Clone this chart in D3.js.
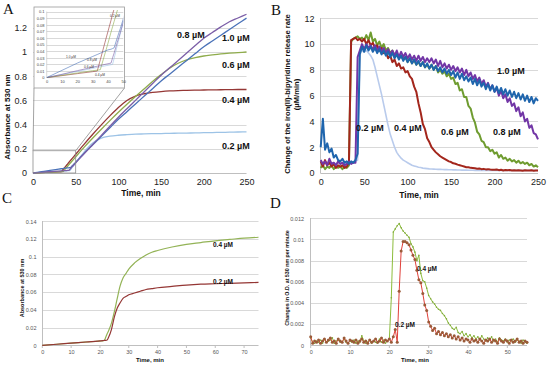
<!DOCTYPE html>
<html><head><meta charset="utf-8">
<script src="https://cdn.jsdelivr.net/npm/d3@7"></script>
<style>body{margin:0;background:#fff}</style>
</head><body><svg id="c" width="550" height="366" font-family="Liberation Sans, Arial, sans-serif"></svg>
<script>
// ---------- Panel A data (absorbance at 530 nm) ----------
const tA = [0,10,20,30,33,35,38,40,42,43,44,46,48,50,55,60,70,80,90,100,110,120,130,140,150,160,170,180,190,200,210,220,230,240,250];
const A_02 = [0,0.0047,0.0093,0.014,0.0155,0.0163,0.0177,0.0186,0.0195,0.02,0.029,0.048,0.066,0.084,0.13,0.175,0.248,0.288,0.304,0.312,0.317,0.321,0.323,0.325,0.326,0.328,0.329,0.33,0.331,0.333,0.334,0.336,0.337,0.339,0.34];
const A_04 = [0,0.003,0.006,0.009,0.010,0.027,0.053,0.070,0.087,0.096,0.104,0.121,0.138,0.155,0.197,0.239,0.32,0.398,0.472,0.541,0.599,0.636,0.655,0.666,0.673,0.678,0.681,0.683,0.685,0.686,0.687,0.688,0.689,0.69,0.69];
const A_06 = [0,0.0035,0.007,0.0105,0.0112,0.012,0.036,0.052,0.069,0.077,0.085,0.101,0.117,0.133,0.174,0.214,0.289,0.362,0.433,0.502,0.568,0.632,0.694,0.756,0.813,0.866,0.907,0.935,0.953,0.967,0.976,0.984,0.99,0.995,1.0];
const A_08 = [0,0.005,0.0105,0.0157,0.0173,0.0183,0.02,0.021,0.022,0.03,0.037,0.053,0.068,0.084,0.123,0.161,0.236,0.311,0.386,0.461,0.531,0.6,0.669,0.739,0.808,0.869,0.93,0.992,1.053,1.114,1.161,1.208,1.25,1.281,1.312];
const A_10 = [0,0.011,0.022,0.032,0.035,0.037,0.04,0.042,0.043,0.044,0.045,0.06,0.074,0.089,0.126,0.163,0.233,0.303,0.374,0.444,0.507,0.571,0.634,0.697,0.761,0.817,0.874,0.93,0.987,1.044,1.091,1.138,1.186,1.233,1.28];
const A_yTicks = [0,0.2,0.4,0.6,0.8,1,1.2];
const A_xTicks = [0,50,100,150,200,250];
const inset_yTicks = [0,0.01,0.02,0.03,0.04,0.05,0.06,0.07,0.08,0.09,0.1];
const inset_xTicks = [0,10,20,30,40,50];

// ---------- Panel B data (release rate, µM/min), sampled every 2.5 min ----------
const tB = d3.range(0, 250.01, 2.5);
const B_02 = [0.8,0.7,0.9,0.7,0.8,0.7,0.8,0.7,0.8,0.7,
 0.8,0.7,0.8,0.7,0.8,0.8,0.9,1.0,9.3,9.5,
 9.4,9.5,9.3,9.1,8.8,8.2,7.5,6.8,6.1,5.3,
 4.5,3.7,3.0,2.5,2.0,1.6,1.35,1.15,1.0,0.9,
 0.8,0.7,0.6,0.55,0.5,0.45,0.42,0.38,0.36,0.34,
 0.32,0.31,0.3,0.29,0.28,0.28,0.27,0.26,0.26,0.25,
 0.25,0.24,0.24,0.23,0.23,0.22,0.22,0.22,0.21,0.21,
 0.21,0.2,0.2,0.2,0.2,0.2,0.2,0.2,0.2,0.2,
 0.2,0.2,0.2,0.2,0.2,0.2,0.2,0.2,0.2,0.2,
 0.2,0.2,0.2,0.2,0.2,0.2,0.2,0.2,0.2,0.2,
 0.2];
const B_04 = [0.9,0.5,1.0,0.6,0.8,0.5,0.7,0.4,0.6,0.5,
 0.6,0.4,0.5,0.8,10.3,10.4,10.5,10.3,10.4,10.2,
 10.4,10.0,10.3,9.9,10.1,9.7,9.9,9.5,9.7,9.3,
 9.4,8.9,9.1,8.6,8.8,8.3,8.5,8.1,8.2,7.8,
 7.9,7.5,7.3,6.7,6.3,5.4,4.7,3.8,3.4,2.7,
 2.4,2.0,1.8,1.6,1.45,1.3,1.2,1.1,1.0,0.9,
 0.85,0.75,0.72,0.65,0.6,0.55,0.5,0.45,0.45,0.4,
 0.38,0.36,0.33,0.35,0.3,0.32,0.28,0.3,0.27,0.25,
 0.25,0.27,0.22,0.25,0.2,0.24,0.21,0.23,0.2,0.22,
 0.19,0.22,0.2,0.18,0.21,0.2,0.19,0.22,0.18,0.2,
 0.2];
const B_06 = [0.4,0.6,0.3,0.5,0.4,0.6,0.3,0.5,0.4,0.5,
 0.3,0.5,0.4,0.6,10.2,10.4,10.5,10.6,10.4,10.5,
 10.3,10.7,10.3,10.9,10.2,10.4,9.9,10.2,9.7,10.0,
 9.5,9.7,9.3,9.5,9.1,9.3,8.9,9.1,8.8,9.0,
 8.6,8.9,8.5,8.8,8.4,8.6,8.3,8.6,8.2,8.4,
 8.1,8.4,8.0,8.3,7.8,8.0,7.7,7.9,7.5,7.7,
 7.3,7.4,6.9,7.0,6.4,6.5,5.9,5.9,5.2,5.0,
 4.3,3.9,3.2,3.0,2.5,2.4,2.0,2.0,1.7,1.8,
 1.5,1.6,1.2,1.4,1.1,1.2,0.95,1.1,0.9,1.0,
 0.8,0.95,0.75,0.85,0.7,0.8,0.6,0.7,0.5,0.6,
 0.45];
const B_08 = [1.0,0.7,0.9,0.6,1.1,0.7,0.8,0.6,0.9,0.7,
 0.8,0.6,0.7,0.9,0.7,0.8,0.8,9.0,9.5,10.0,
 9.6,10.0,9.7,9.9,9.6,9.9,9.5,9.8,9.4,9.7,
 9.3,9.6,9.2,9.5,9.1,9.5,9.0,9.4,9.0,9.3,
 8.9,9.2,8.8,9.1,8.7,9.1,8.7,9.0,8.6,8.9,
 8.6,8.9,8.5,8.8,8.3,8.7,8.2,8.5,8.1,8.4,
 8.0,8.3,7.9,8.2,7.8,8.1,7.6,8.0,7.5,7.8,
 7.3,7.6,7.1,7.4,6.9,7.2,6.7,7.0,6.5,6.8,
 6.3,6.6,6.0,6.4,5.8,6.1,5.5,5.8,5.2,5.4,
 4.8,5.1,4.4,4.7,4.0,4.2,3.5,3.7,3.1,3.0,
 2.6];
const B_10 = [2.0,4.2,1.8,2.3,1.6,1.9,1.2,1.4,1.0,0.9,
 1.1,0.8,0.9,0.7,0.9,0.8,1.0,1.5,9.2,9.8,
 9.4,9.9,9.5,9.8,9.4,9.7,9.3,9.6,9.2,9.5,
 9.1,9.4,9.0,9.3,8.9,9.2,8.8,9.1,8.7,9.0,
 8.6,8.9,8.5,8.8,8.4,8.7,8.3,8.6,8.2,8.5,
 8.1,8.4,8.0,8.3,7.9,8.2,7.8,8.1,7.7,8.0,
 7.6,7.9,7.4,7.8,7.3,7.7,7.2,7.5,7.1,7.4,
 6.9,7.3,6.8,7.2,6.7,7.0,6.5,6.9,6.4,6.8,
 6.3,6.7,6.2,6.6,6.1,6.5,6.0,6.4,5.9,6.3,
 5.8,6.2,5.7,6.1,5.6,6.0,5.5,5.9,5.4,5.8,
 5.6];
const B_yTicks = [0,2,4,6,8,10,12];
const B_xTicks = [0,50,100,150,200,250];

// ---------- Panel C data (absorbance at 530 nm) ----------
const tC = [0,5,10,15,20,21,21.5,22,22.5,23,24,25,26,27,28,29,30,32,34,36,38,40,45,50,55,60,65,70,75];
const C_04 = [0,0.0012,0.0024,0.0036,0.0048,0.005,0.0055,0.009,0.013,0.0165,0.025,0.038,0.053,0.067,0.076,0.081,0.086,0.093,0.098,0.102,0.105,0.107,0.111,0.114,0.116,0.118,0.1195,0.121,0.122];
const C_02 = [0,0.0012,0.0025,0.0037,0.005,0.0053,0.0055,0.0056,0.006,0.009,0.018,0.032,0.042,0.048,0.053,0.055,0.057,0.059,0.061,0.063,0.064,0.065,0.0665,0.068,0.069,0.0695,0.07,0.0705,0.071];
const C_yTicks = [0,0.02,0.04,0.06,0.08,0.1,0.12,0.14];
const C_xTicks = [0,10,20,30,40,50,60,70];

// ---------- Panel D data (change in O.D. per minute), every 0.5 min ----------
const tD = d3.range(0, 55.01, 0.5);
const D_04 = [.0007,.0003,.0002,.0004,.0003,.0005,.0002,.0006,.0003,.0004,
 .0005,.0007,.0002,.0004,.0005,.0003,.0003,.0006,.0003,.0002,
 .0004,.0003,.0005,.0002,.0004,.0003,.0009,.0004,.0002,.0003,
 .0005,.0002,.0004,.0003,.0002,.0006,.0003,.0005,.0002,.0004,
 .0006,.0045,.0107,.0110,.0113,.0115,.0111,.0108,.0106,.0104,
 .0102,.0096,.0093,.0088,.0080,.0085,.0068,.0061,.0060,.0054,
 .0047,.0044,.0041,.0039,.0036,.0034,.0033,.0030,.0028,.0025,
 .0021,.0019,.0016,.0015,.0017,.0012,.0011,.0013,.0009,.0011,
 .0008,.0010,.0007,.0009,.0006,.0008,.0005,.0009,.0006,.0004,
 .0007,.0005,.0008,.0004,.0006,.0003,.0007,.0005,.0004,.0006,
 .0003,.0005,.0004,.0006,.0003,.0005,.0004,.0002,.0005,.0003,
 .0002];
const D_02 = [.0008,.0002,.0004,.0003,.0005,.0002,.0004,.0006,.0003,.0005,
 .0007,.0003,.0004,.0002,.0006,.0004,.0003,.0007,.0004,.0002,
 .0005,.0004,.0003,.0005,.0002,.0004,.0006,.0003,.0004,.0002,
 .0005,.0003,.0004,.0006,.0003,.0004,.0007,.0003,.0005,.0004,
 .0006,.0003,.0008,.0015,.0003,.0051,.0089,.0098,.0098,.0097,
 .0095,.0090,.0085,.0081,.0071,.0062,.0059,.0049,.0038,.0033,
 .0022,.0018,.0014,.0016,.0011,.0013,.0010,.0012,.0009,.0011,
 .0008,.0010,.0007,.0009,.0006,.0008,.0005,.0007,.0004,.0006,
 .0005,.0003,.0006,.0004,.0005,.0003,.0006,.0004,.0002,.0005,
 .0004,.0006,.0003,.0005,.0004,.0002,.0006,.0004,.0003,.0005,
 .0004,.0002,.0005,.0003,.0004,.0006,.0003,.0004,.0002,.0004,
 .0003];
const D_yTicks = [0,0.002,0.004,0.006,0.008,0.01,0.012];
const D_xTicks = [0,10,20,30,40,50];

// ---------- drawing ----------
const svg = d3.select("#c");
svg.append("rect").attr("width",550).attr("height",366).attr("fill","#fff");
const GRID = "#d9d9d9", AXIS = "#bfbfbf", TXT = "#222";
const SERIF = "Liberation Serif, DejaVu Serif, serif";

function grid(g, y, ticks, x0, x1) {
  g.append("g").selectAll("line").data(ticks.filter(d => d !== 0)).join("line")
    .attr("x1", x0).attr("x2", x1).attr("y1", d => Math.round(y(d)) + 0.5).attr("y2", d => Math.round(y(d)) + 0.5)
    .attr("stroke", GRID).attr("stroke-width", 1);
}
function yLabels(g, y, ticks, x, size, color) {
  const ax = g.append("g").attr("transform", `translate(${x},0)`)
    .call(d3.axisLeft(y).tickValues(ticks).tickSize(0).tickPadding(0).tickFormat(d => String(d)));
  ax.select(".domain").remove();
  ax.attr("font-family", null).attr("font-size", null);
  ax.selectAll("text").attr("font-size", size).attr("fill", color);
}
function xLabels(g, x, ticks, y, size, color) {
  const ax = g.append("g").attr("transform", `translate(0,${y})`)
    .call(d3.axisBottom(x).tickValues(ticks).tickSize(0).tickPadding(0).tickFormat(d => String(d)));
  ax.select(".domain").remove();
  ax.attr("font-family", null).attr("font-size", null);
  ax.selectAll("text").attr("font-size", size).attr("fill", color);
}
function series(g, x, y, t, vals, color, w, curve) {
  g.append("path").datum(vals)
    .attr("d", d3.line().x((d, i) => x(t[i])).y(d => y(d)).curve(curve || d3.curveLinear))
    .attr("fill", "none").attr("stroke", color).attr("stroke-width", w).attr("stroke-linejoin", "round");
}
function label(g, txt, x, y, size, opts) {
  opts = opts || {};
  const t = g.append("text").attr("x", x).attr("y", y).attr("font-size", size).attr("fill", opts.fill || "#111")
    .attr("font-weight", opts.weight || "bold").text(txt);
  if (opts.rotate) t.attr("transform", `rotate(-90,${x},${y})`).attr("text-anchor", "middle");
  if (opts.anchor) t.attr("text-anchor", opts.anchor);
  if (opts.family) t.style("font-family", opts.family);
  return t;
}
const colA = {c02: "#9dc3e6", c04: "#953735", c06: "#8fac4c", c08: "#7b5ea7", c10: "#4a72b8"};

// ===== Panel A =====
const gA = svg.append("g");
const xA = d3.scaleLinear([0, 250], [33, 246.5]);
const yA = d3.scaleLinear([0, 1.2], [173, 27.8]);
grid(gA, yA, A_yTicks, 33, 246.5);
gA.append("line").attr("x1", 33).attr("x2", 246.5).attr("y1", 173.5).attr("y2", 173.5).attr("stroke", AXIS);
yLabels(gA, yA, A_yTicks, 27, 9, TXT);
xLabels(gA, xA, A_xTicks, 179, 9, TXT);
const curve = d3.curveMonotoneX;
series(gA, xA, yA, tA, A_02, colA.c02, 1.3, curve);
series(gA, xA, yA, tA, A_04, colA.c04, 1.3, curve);
series(gA, xA, yA, tA, A_06, colA.c06, 1.3, curve);
series(gA, xA, yA, tA, A_10, colA.c10, 1.3, curve);
series(gA, xA, yA, tA, A_08, colA.c08, 1.3, curve);
// zoom box & connectors
const zTop = yA(0.184);
gA.append("rect").attr("x", xA(0)).attr("y", zTop).attr("width", xA(50) - xA(0)).attr("height", yA(0) - zTop)
  .attr("fill", "none").attr("stroke", "#8c8c8c").attr("stroke-width", 0.8);
gA.append("line").attr("x1", xA(0)).attr("y1", zTop).attr("x2", 34).attr("y2", 88).attr("stroke", "#8c8c8c").attr("stroke-width", 0.8);
gA.append("line").attr("x1", xA(50)).attr("y1", zTop).attr("x2", 124.5).attr("y2", 88).attr("stroke", "#8c8c8c").attr("stroke-width", 0.8);
// inset
const gI = gA.append("g");
gI.append("rect").attr("x", 34).attr("y", 7).attr("width", 90.5).attr("height", 81).attr("fill", "#fff").attr("stroke", "#9a9a9a").attr("stroke-width", 0.8);
const xI = d3.scaleLinear([0, 50], [46.7, 123.3]);
const yI = d3.scaleLinear([0, 0.1], [77.6, 11.6]);
grid(gI, yI, inset_yTicks, 46.7, 123.3);
gI.append("line").attr("x1", 46.7).attr("x2", 123.3).attr("y1", 77.6).attr("y2", 77.6).attr("stroke", AXIS).attr("stroke-width", 0.6);
gI.append("line").attr("x1", 46.7).attr("x2", 46.7).attr("y1", 11.6).attr("y2", 77.6).attr("stroke", AXIS).attr("stroke-width", 0.6);
yLabels(gI, yI, inset_yTicks, 44.5, 4, "#444");
xLabels(gI, xI, inset_xTicks, 80.5, 4, "#444");
svg.append("defs").append("clipPath").attr("id", "clipI").append("rect").attr("x", 46.7).attr("y", 10).attr("width", 76.6).attr("height", 68);
const gIc = gI.append("g").attr("clip-path", "url(#clipI)");
[[A_02, colA.c02], [A_04, colA.c04], [A_06, colA.c06], [A_08, colA.c08], [A_10, colA.c10]].forEach(([v, c]) =>
  series(gIc, xI, yI, tA, v, c, 0.6));
label(gI, "1.0 µM", 66, 58, 3.2, {weight: "normal", fill: "#333"});
label(gI, "0.8 µM", 87, 61, 3.2, {weight: "normal", fill: "#333"});
label(gI, "0.6 µM", 84, 68, 3.2, {weight: "normal", fill: "#333"});
label(gI, "0.4 µM", 95, 76, 3.2, {weight: "normal", fill: "#333"});
label(gI, "0.2 µM", 110, 17, 3.2, {weight: "normal", fill: "#333"});
// labels A
label(gA, "0.8 µM", 177, 37.5, 9);
label(gA, "1.0 µM", 222, 40.5, 9);
label(gA, "0.6 µM", 222, 67.5, 9);
label(gA, "0.4 µM", 222, 103, 9);
label(gA, "0.2 µM", 222, 149, 9);
label(gA, "Time, min", 141, 196, 8.5, {anchor: "middle"});
label(gA, "Absorbance at 530 nm", 10, 117, 8, {rotate: true});
label(svg, "A", 3, 13.5, 15, {weight: "normal", family: SERIF});

// ===== Panel B =====
const gB = svg.append("g");
const xB = d3.scaleLinear([0, 250], [320.7, 538]);
const yB = d3.scaleLinear([0, 12], [173, 18.3]);
grid(gB, yB, B_yTicks, 320.7, 538);
gB.append("line").attr("x1", 320.7).attr("x2", 538).attr("y1", 173.5).attr("y2", 173.5).attr("stroke", AXIS);
gB.append("line").attr("x1", 320.5).attr("x2", 320.5).attr("y1", 18).attr("y2", 173.5).attr("stroke", AXIS);
yLabels(gB, yB, B_yTicks, 314.5, 9, TXT);
xLabels(gB, xB, B_xTicks, 179, 9, TXT);
series(gB, xB, yB, tB, B_02, "#b9cbec", 1.6);
series(gB, xB, yB, tB, B_06, "#6f9c30", 2);
series(gB, xB, yB, tB, B_04, "#a3261c", 2);
series(gB, xB, yB, tB, B_08, "#7236a6", 2);
series(gB, xB, yB, tB, B_10, "#1f65ad", 2);
label(gB, "1.0 µM", 497, 74, 9);
label(gB, "0.2 µM", 356, 131, 9);
label(gB, "0.4 µM", 394, 131, 9);
label(gB, "0.6 µM", 441, 135, 9);
label(gB, "0.8 µM", 493, 135, 9);
label(gB, "Time, min", 419, 198, 8.5, {anchor: "middle"});
label(gB, "Change of the iron(II)-bipyridine release rate", 289.5, 94, 7.6, {rotate: true});
label(gB, "(µM/min)", 298.5, 94.5, 7.6, {rotate: true});
label(svg, "B", 271, 15, 15, {weight: "normal", family: SERIF});

// ===== Panel C =====
const gC = svg.append("g");
const xC = d3.scaleLinear([0, 75], [42.3, 258.5]);
const yC = d3.scaleLinear([0, 0.14], [345.3, 221.3]);
grid(gC, yC, C_yTicks, 42.3, 258.5);
gC.append("line").attr("x1", 42.3).attr("x2", 258.5).attr("y1", 345.5).attr("y2", 345.5).attr("stroke", AXIS);
gC.append("line").attr("x1", 42.5).attr("x2", 42.5).attr("y1", 221).attr("y2", 345.5).attr("stroke", AXIS);
gC.append("g").selectAll("line").data(C_xTicks).join("line")
  .attr("x1", d => xC(d)).attr("x2", d => xC(d)).attr("y1", 345.5).attr("y2", 348).attr("stroke", AXIS);
yLabels(gC, yC, C_yTicks, 36.5, 5.5, "#555");
xLabels(gC, xC, C_xTicks, 350, 5.5, "#555");
series(gC, xC, yC, tC, C_04, "#93b356", 1.2, curve);
series(gC, xC, yC, tC, C_02, "#943634", 1.2, curve);
label(gC, "0.4 µM", 213, 247, 6.5);
label(gC, "0.2 µM", 213, 284, 6.5);
label(gC, "Time, min", 150, 362, 6, {anchor: "middle"});
label(gC, "Absorbance at 530 nm", 23.5, 288, 5.5, {rotate: true});
label(svg, "C", 2, 203, 15, {weight: "normal", family: SERIF});

// ===== Panel D =====
const gD = svg.append("g");
const xD = d3.scaleLinear([0, 55], [310.7, 527]);
const yD = d3.scaleLinear([0, 0.012], [345.3, 218.3]);
grid(gD, yD, D_yTicks, 310.7, 527);
gD.append("line").attr("x1", 310.7).attr("x2", 527).attr("y1", 345.5).attr("y2", 345.5).attr("stroke", AXIS);
gD.append("line").attr("x1", 310.5).attr("x2", 310.5).attr("y1", 218).attr("y2", 345.5).attr("stroke", AXIS);
gD.append("g").selectAll("line").data(D_xTicks).join("line")
  .attr("x1", d => xD(d)).attr("x2", d => xD(d)).attr("y1", 345.5).attr("y2", 348).attr("stroke", AXIS);
yLabels(gD, yD, D_yTicks, 304, 5.5, "#555");
xLabels(gD, xD, D_xTicks, 350, 5.5, "#555");
series(gD, xD, yD, tD, D_04, "#8dbd3c", 1);
gD.append("g").selectAll("circle").data(D_04).join("circle")
  .attr("cx", (d, i) => xD(tD[i])).attr("cy", d => yD(d)).attr("r", 0.8).attr("fill", "#7fa83a");
series(gD, xD, yD, tD, D_02, "#e0403a", 1);
gD.append("g").selectAll("circle").data(D_02).join("circle")
  .attr("cx", (d, i) => xD(tD[i])).attr("cy", d => yD(d)).attr("r", 1.5).attr("fill", "#9a5a38");
label(gD, "0.4 µM", 417, 271, 6.5);
label(gD, "0.2 µM", 395, 327, 6.5);
label(gD, "Time, min", 415, 362, 6, {anchor: "middle"});
label(gD, "Changes in O.D. at 530 nm per minute", 289, 278, 5.3, {rotate: true});
label(svg, "D", 270, 208, 15, {weight: "normal", family: SERIF});
</script></body></html>
